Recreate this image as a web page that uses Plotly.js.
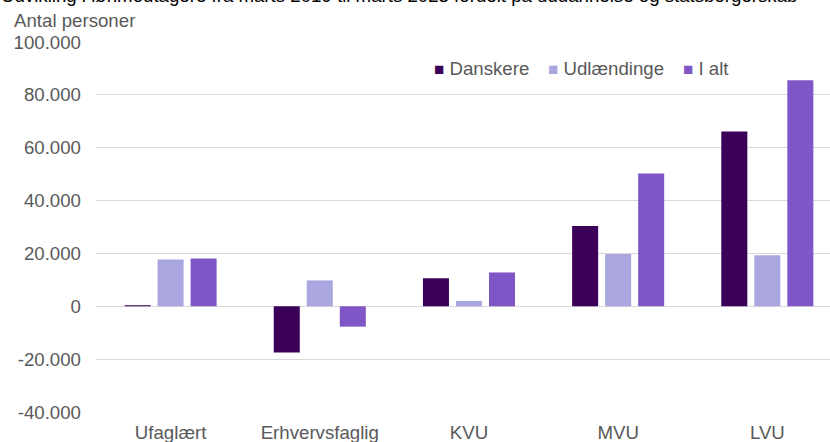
<!DOCTYPE html>
<html><head><meta charset="utf-8">
<script src="https://cdn.plot.ly/plotly-3.0.1.min.js"></script>
<style>html,body{margin:0;padding:0;overflow:hidden;background:#fff}</style>
</head><body><div id="chart" style="width:830px;height:442px"></div>
<script>
const categories = ["Ufaglært", "Erhvervsfaglig", "KVU", "MVU", "LVU"];
const seriesNames = ["Danskere", "Udlændinge", "I alt"];
const danskere = [400, -17500, 10600, 30400, 66100];
const udlaendinge = [17700, 9800, 2000, 19800, 19300];
const iAlt = [18100, -7700, 12800, 50200, 85500];
const yTickValues = [-40000, -20000, 0, 20000, 40000, 60000, 80000, 100000];
const yTickLabels = ["-40.000", "-20.000", "0", "20.000", "40.000", "60.000", "80.000", "100.000"];
const titleText = "Udvikling i lønmodtagere fra marts 2019 til marts 2023 fordelt på uddannelse og statsborgerskab";
const yAxisLabel = "Antal personer";

const colors = ["#3b0058", "#aaa6e0", "#7f56c5"];
const FONT = "Liberation Sans, Arial, sans-serif";
const FS = 18.67;
const GREY = "#595959";

// plot area in page pixels
const L = 96, R = 830, T = 42, B = 412;
const px = x => (x - L) / (R - L);
const py = y => (B - y) / (B - T);

const values = [danskere, udlaendinge, iAlt];
const traces = values.map((v, i) => ({
  type: "bar",
  x: categories,
  y: v,
  name: seriesNames[i],
  marker: {color: colors[i], line: {width: 0}},
  hoverinfo: "skip"
}));

const legendX = [432, 546, 681];
const annotations = [
  {text: titleText, x: px(-1), y: py(-4.5), xref: "paper", yref: "paper",
   xanchor: "left", yanchor: "middle", showarrow: false,
   font: {family: FONT, size: FS, color: "#000000"}},
  {text: yAxisLabel, x: px(12), y: py(20.5), xref: "paper", yref: "paper",
   xanchor: "left", yanchor: "middle", showarrow: false,
   font: {family: FONT, size: FS, color: GREY}}
].concat(seriesNames.map((n, i) => ({
  text: '<span style="color:' + colors[i] + ';font-size:17px">■</span> ' + n,
  x: px(legendX[i]), y: py(68.5), xref: "paper", yref: "paper",
  xanchor: "left", yanchor: "middle", showarrow: false,
  font: {family: FONT, size: FS, color: GREY}
})));

const layout = {
  width: 830, height: 442,
  margin: {l: L, r: 830 - R, t: T, b: 442 - B, pad: 0},
  paper_bgcolor: "#ffffff", plot_bgcolor: "#ffffff",
  barmode: "group", bargap: 0.336, bargroupgap: 0.212,
  showlegend: false,
  font: {family: FONT, size: FS, color: GREY},
  xaxis: {
    type: "category", range: [-0.5, 4.42],
    showgrid: false, zeroline: false, showline: false, ticks: "",
    tickfont: {family: FONT, size: FS, color: GREY},
    ticklabelstandoff: 7, fixedrange: true
  },
  yaxis: {
    range: [-40000, 100000],
    tickvals: yTickValues, ticktext: yTickLabels,
    showgrid: true, gridcolor: "#d9d9d9", gridwidth: 1,
    zeroline: true, zerolinecolor: "#d9d9d9", zerolinewidth: 1,
    showline: false, ticks: "",
    tickfont: {family: FONT, size: FS, color: GREY},
    ticklabelstandoff: 14, fixedrange: true
  },
  annotations: annotations
};

Plotly.newPlot("chart", traces, layout, {displayModeBar: false, staticPlot: true});
</script>
</body></html>
